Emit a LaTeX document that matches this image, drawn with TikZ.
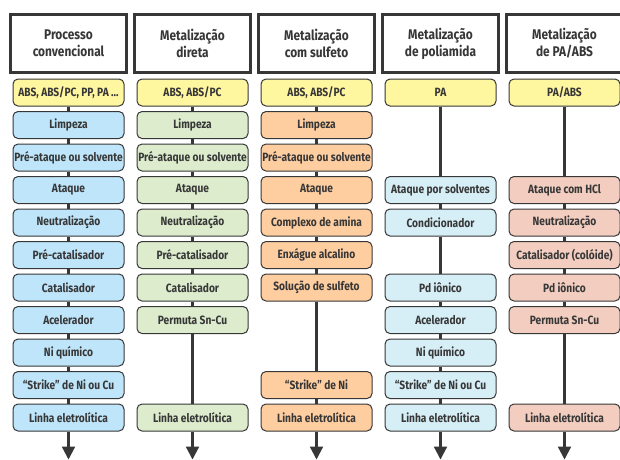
\documentclass[tikz,border=0pt]{standalone}
\usepackage{fontspec}
\setmainfont{Fira Sans}[FakeStretch=0.85,BoldFeatures={FakeStretch=0.85}]
\usetikzlibrary{arrows.meta}
\definecolor{inkgray}{RGB}{55,55,55}
\definecolor{plastic}{RGB}{255,246,160}
\definecolor{convblue}{RGB}{190,229,250}
\definecolor{diretagreen}{RGB}{220,236,205}
\definecolor{sulforange}{RGB}{255,206,160}
\definecolor{poliacyan}{RGB}{214,238,246}
\definecolor{papink}{RGB}{243,206,192}
\tikzset{
  hdr/.style={draw=inkgray,line width=3pt,fill=white,minimum width=116pt,minimum height=58pt,
    align=center,font=\fontsize{14}{17}\selectfont\bfseries,text=inkgray,inner sep=0pt},
  stepbox/.style={draw=inkgray,line width=1pt,rounded corners=5pt,minimum width=111pt,
    minimum height=27pt,inner sep=0pt,font=\fontsize{12}{13}\selectfont\bfseries,text=inkgray},
  plasticbox/.style={stepbox,fill=plastic},
  convbox/.style={stepbox,fill=convblue},
  diretabox/.style={stepbox,fill=diretagreen},
  sulfbox/.style={stepbox,fill=sulforange},
  poliabox/.style={stepbox,fill=poliacyan},
  pabox/.style={stepbox,fill=papink},
  link/.style={draw=inkgray,line width=2.2pt},
  exitarrow/.style={link,-{Triangle[width=13pt,length=13pt]}}
}
\begin{document}
\begin{tikzpicture}[x=1pt,y=-1pt]
\useasboundingbox (0,0) rectangle (620,459);
% headers
\node[hdr](h1) at (68.5,43.5){Processo\\convencional};
\node[hdr](h2) at (192.5,43.5){Metalização\\direta};
\node[hdr](h3) at (316.5,43.5){Metalização\\com sulfeto};
\node[hdr](h4) at (440.5,43.5){Metalização\\de poliamida};
\node[hdr](h5) at (564.5,43.5){Metalização\\de PA/ABS};
% processo convencional
\node[plasticbox](a1) at (68.5,92.5){ABS, ABS/PC, PP, PA ...};
\node[convbox](a2) at (68.5,125){Limpeza};
\node[convbox](a3) at (68.5,157.5){Pré-ataque ou solvente};
\node[convbox](a4) at (68.5,190){Ataque};
\node[convbox](a5) at (68.5,222.5){Neutralização};
\node[convbox](a6) at (68.5,255){Pré-catalisador};
\node[convbox](a7) at (68.5,287.5){Catalisador};
\node[convbox](a8) at (68.5,320){Acelerador};
\node[convbox](a9) at (68.5,352.5){Ni químico};
\node[convbox](a10) at (68.5,385){“Strike” de Ni ou Cu};
\node[convbox](a11) at (68.5,417.5){Linha eletrolítica};
% metalizacao direta
\node[plasticbox](b1) at (192.5,92.5){ABS, ABS/PC};
\node[diretabox](b2) at (192.5,125){Limpeza};
\node[diretabox](b3) at (192.5,157.5){Pré-ataque ou solvente};
\node[diretabox](b4) at (192.5,190){Ataque};
\node[diretabox](b5) at (192.5,222.5){Neutralização};
\node[diretabox](b6) at (192.5,255){Pré-catalisador};
\node[diretabox](b7) at (192.5,287.5){Catalisador};
\node[diretabox](b8) at (192.5,320){Permuta Sn-Cu};
\node[diretabox](b11) at (192.5,417.5){Linha eletrolítica};
% metalizacao com sulfeto
\node[plasticbox](c1) at (316.5,92.5){ABS, ABS/PC};
\node[sulfbox](c2) at (316.5,125){Limpeza};
\node[sulfbox](c3) at (316.5,157.5){Pré-ataque ou solvente};
\node[sulfbox](c4) at (316.5,190){Ataque};
\node[sulfbox](c5) at (316.5,222.5){Complexo de amina};
\node[sulfbox](c6) at (316.5,255){Enxágue alcalino};
\node[sulfbox](c7) at (316.5,287.5){Solução de sulfeto};
\node[sulfbox](c10) at (316.5,385){“Strike” de Ni};
\node[sulfbox](c11) at (316.5,417.5){Linha eletrolítica};
% metalizacao de poliamida
\node[plasticbox](d1) at (440.5,92.5){PA};
\node[poliabox](d4) at (440.5,190){Ataque por solventes};
\node[poliabox](d5) at (440.5,222.5){Condicionador};
\node[poliabox](d7) at (440.5,287.5){Pd iônico};
\node[poliabox](d8) at (440.5,320){Acelerador};
\node[poliabox](d9) at (440.5,352.5){Ni químico};
\node[poliabox](d10) at (440.5,385){“Strike” de Ni ou Cu};
\node[poliabox](d11) at (440.5,417.5){Linha eletrolítica};
% metalizacao de PA/ABS
\node[plasticbox](e1) at (564.5,92.5){PA/ABS};
\node[pabox](e4) at (564.5,190){Ataque com HCl};
\node[pabox](e5) at (564.5,222.5){Neutralização};
\node[pabox](e6) at (564.5,255){Catalisador (colóide)};
\node[pabox](e7) at (564.5,287.5){Pd iônico};
\node[pabox](e8) at (564.5,320){Permuta Sn-Cu};
\node[pabox](e11) at (564.5,417.5){Linha eletrolítica};
% ligacoes
\foreach \p/\q in {a1/a2,a2/a3,a3/a4,a4/a5,a5/a6,a6/a7,a7/a8,a8/a9,a9/a10,a10/a11,
  b1/b2,b2/b3,b3/b4,b4/b5,b5/b6,b6/b7,b7/b8,b8/b11,
  c1/c2,c2/c3,c3/c4,c4/c5,c5/c6,c6/c7,c7/c10,c10/c11,
  d1/d4,d4/d5,d5/d7,d7/d8,d8/d9,d9/d10,d10/d11,
  e1/e4,e4/e5,e5/e6,e6/e7,e7/e8,e8/e11}
  \draw[link](\p.south)--(\q.north);
\foreach \p in {a,b,c,d,e}{
  \coordinate(\p end) at ([yshift=-28pt]\p11.south);
  \draw[exitarrow](\p11.south)--(\p end);
}
\end{tikzpicture}
\end{document}
